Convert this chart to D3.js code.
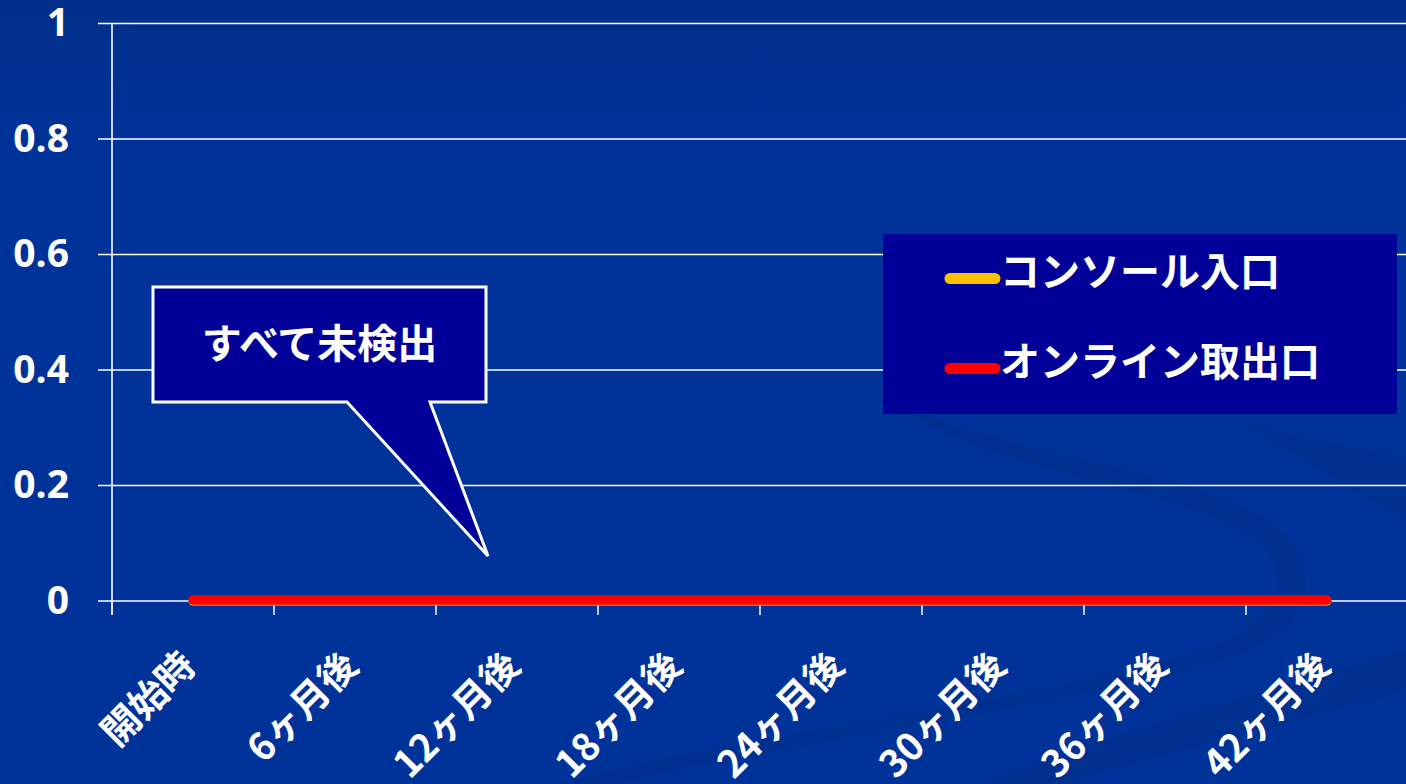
<!DOCTYPE html>
<html lang="ja">
<head>
<meta charset="UTF-8">
<script src="https://cdn.jsdelivr.net/npm/d3@7"></script>
<style>
  html, body { margin: 0; padding: 0; background: #003399; overflow: hidden; }
  svg { display: block; }
</style>
</head>
<body>
<div id="wrapper"></div>
<script>
  // data
  const categories = ["開始時", "6ヶ月後", "12ヶ月後", "18ヶ月後", "24ヶ月後", "30ヶ月後", "36ヶ月後", "42ヶ月後"];
  const consoleInlet = [0, 0, 0, 0, 0, 0, 0, 0];
  const onlineOutlet = [0, 0, 0, 0, 0, 0, 0, 0];
  const seriesNames = ["コンソール入口", "オンライン取出口"];
  const yTicks = [0, 0.2, 0.4, 0.6, 0.8, 1];
  const calloutText = "すべて未検出";

  const width = 1406, height = 784;
  const dims = { left: 112, right: 1408, top: 23.5, bottom: 601 };

  const svg = d3.select("#wrapper").append("svg")
    .attr("width", width)
    .attr("height", height);

  //#region background
  const defs = svg.append("defs");
  const grad = defs.append("linearGradient")
    .attr("id", "bg").attr("x1", 0).attr("y1", 0).attr("x2", 0).attr("y2", 1);
  grad.append("stop").attr("offset", "0%").attr("stop-color", "#002d88");
  grad.append("stop").attr("offset", "6%").attr("stop-color", "#003191");
  grad.append("stop").attr("offset", "20%").attr("stop-color", "#003399");
  grad.append("stop").attr("offset", "100%").attr("stop-color", "#003399");
  svg.append("rect").attr("width", width).attr("height", height).attr("fill", "url(#bg)");

  // subtle swooshes in the background
  const swoosh = svg.append("g").attr("fill", "#002f8e").attr("opacity", 0.75);
  swoosh.append("path")
    .attr("d", "M880,390 C960,470 1150,480 1240,530 C1300,565 1290,620 1200,650 C1050,700 700,740 560,784 L620,784 C760,745 1120,700 1250,650 C1330,615 1320,545 1250,510 C1150,460 970,450 880,390 Z");
  swoosh.append("path")
    .attr("d", "M980,784 C1120,730 1300,680 1406,650 L1406,690 C1300,720 1150,760 1060,784 Z");
  swoosh.append("path")
    .attr("d", "M1240,420 C1300,440 1370,450 1406,455 L1406,520 C1370,500 1300,460 1240,420 Z");
  //#endregion

  //#region scales
  const x = d3.scaleBand()
    .domain(categories)
    .range([dims.left, dims.right])
    .padding(0);
  const xc = d => x(d) + x.bandwidth() / 2;

  const y = d3.scaleLinear()
    .domain([0, 1])
    .range([dims.bottom, dims.top]);
  //#endregion

  //#region grid and axes
  svg.append("g")
    .selectAll("line")
    .data(yTicks)
    .join("line")
    .attr("x1", dims.left - 14)
    .attr("x2", width)
    .attr("y1", d => y(d))
    .attr("y2", d => y(d))
    .attr("stroke", "#ffffff")
    .attr("stroke-width", 1.6);

  const yAxis = svg.append("g")
    .attr("transform", `translate(${dims.left},0)`)
    .call(d3.axisLeft(y).tickValues(yTicks).tickSize(0).tickPadding(43).tickFormat(d3.format("")));
  yAxis.select(".domain").remove();
  yAxis.selectAll("text")
    .attr("fill", "#ffffff")
    .style("font-family", "'Open Sans', 'Liberation Sans', sans-serif")
    .style("font-weight", 700)
    .style("font-size", "39px");

  svg.append("line")
    .attr("x1", dims.left).attr("x2", dims.left)
    .attr("y1", dims.top).attr("y2", dims.bottom + 14)
    .attr("stroke", "#ffffff").attr("stroke-width", 1.6);

  const boundaries = categories.map(c => x(c)).concat([x.range()[1]]);
  svg.append("g")
    .selectAll("line")
    .data(boundaries)
    .join("line")
    .attr("x1", d => d).attr("x2", d => d)
    .attr("y1", dims.bottom).attr("y2", dims.bottom + 14)
    .attr("stroke", "#e6ecf5").attr("stroke-width", 1.6);

  svg.append("g")
    .selectAll("text")
    .data(categories)
    .join("text")
    .attr("transform", d => `translate(${xc(d) + 5},${dims.bottom + 67}) rotate(-45)`)
    .attr("text-anchor", "end")
    .attr("fill", "#ffffff")
    .style("font-family", "'Noto Sans CJK JP', sans-serif")
    .style("font-weight", 700)
    .style("font-size", "38px")
    .text(d => d);
  //#endregion

  //#region series
  const line = d3.line()
    .x((d, i) => xc(categories[i]))
    .y(d => y(d));

  svg.append("path")
    .attr("d", line(consoleInlet))
    .attr("fill", "none")
    .attr("stroke", "#ffc000")
    .attr("stroke-width", 9)
    .attr("stroke-linecap", "round");

  svg.append("path")
    .attr("d", line(onlineOutlet))
    .attr("fill", "none")
    .attr("stroke", "#ff0000")
    .attr("stroke-width", 9.5)
    .attr("stroke-linecap", "round")
    .attr("transform", "translate(0,-1)");
  //#endregion

  //#region legend
  const legend = svg.append("g").attr("transform", "translate(883,234)");
  legend.append("rect")
    .attr("width", 514)
    .attr("height", 180)
    .attr("fill", "#000099");
  const legendColors = ["#ffc000", "#ff0000"];
  const items = legend.selectAll("g.item")
    .data(seriesNames)
    .join("g")
    .attr("class", "item")
    .attr("transform", (d, i) => `translate(0,${44.5 + i * 90})`);
  items.append("line")
    .attr("x1", 67).attr("x2", 112)
    .attr("stroke", (d, i) => legendColors[i])
    .attr("stroke-width", 11)
    .attr("stroke-linecap", "round");
  items.append("text")
    .attr("x", 117)
    .attr("y", 7)
    .attr("fill", "#ffffff")
    .style("font-family", "'Noto Sans CJK JP', sans-serif")
    .style("font-weight", 700)
    .style("font-size", "40px")
    .text(d => d);
  //#endregion

  //#region callout
  const box = { x0: 153, x1: 486, y0: 287, y1: 402 };
  const tip = [488, y(0.078)];
  const callout = svg.append("g");
  callout.append("path")
    .attr("d", d3.line()([
      [box.x0, box.y0], [box.x1, box.y0], [box.x1, box.y1], [430, box.y1],
      tip, [347, box.y1], [box.x0, box.y1]
    ]) + "Z")
    .attr("fill", "#000099")
    .attr("stroke", "#ffffff")
    .attr("stroke-width", 3)
    .attr("stroke-linejoin", "miter");
  callout.append("text")
    .attr("x", (box.x0 + box.x1) / 2)
    .attr("y", 358)
    .attr("text-anchor", "middle")
    .attr("fill", "#ffffff")
    .style("font-family", "'Noto Sans CJK JP', sans-serif")
    .style("font-weight", 700)
    .style("font-size", "40px")
    .text(calloutText);
  //#endregion
</script>
</body>
</html>
